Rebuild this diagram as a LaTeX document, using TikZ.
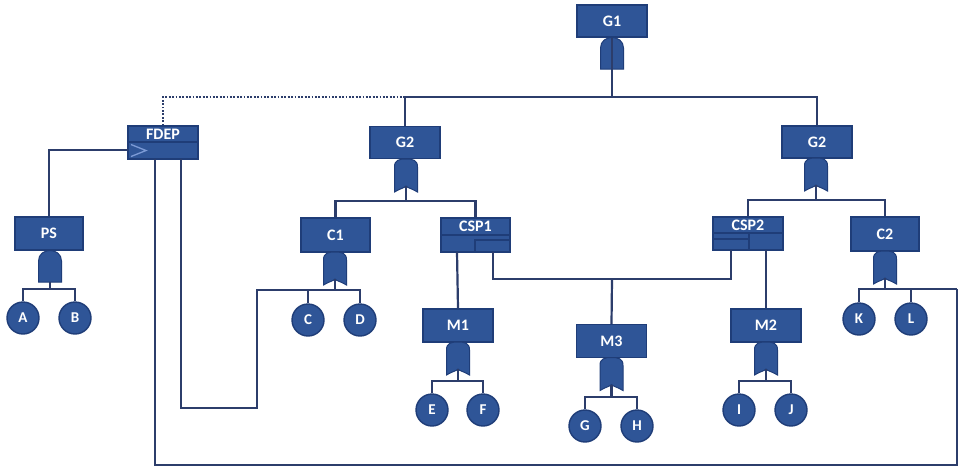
\documentclass[tikz,border=0pt]{standalone}
\usepackage{fontspec}
\setmainfont{Carlito}[BoldFont={Carlito Bold}]
\definecolor{fillb}{HTML}{2F5597}
\definecolor{edgeb}{HTML}{1F3D78}
\definecolor{linec}{HTML}{2C3D6B}
\definecolor{chev}{HTML}{7D9BD6}
\begin{document}
\begin{tikzpicture}[x=1pt,y=-1pt,
  box/.style={draw=edgeb, line width=1.4pt, fill=fillb, minimum width=70pt,
    minimum height=32pt, inner sep=0pt, text=white,
    font=\bfseries\fontsize{16}{16}\selectfont},
  evt/.style={circle, draw=edgeb, line width=1.4pt, fill=fillb, minimum size=32pt,
    inner sep=0pt, text=white, font=\bfseries\fontsize{15}{15}\selectfont},
  lbl/.style={inner sep=0pt, text=white, font=\bfseries\fontsize{16}{16}\selectfont},
  wire/.style={draw=linec, line width=2.2pt},
  dotwire/.style={draw=linec, line width=2.4pt, dash pattern=on 1.8pt off 1.6pt},
  inner/.style={draw=edgeb, line width=1.2pt},
  gatestyle/.style={fill=fillb, draw=edgeb, line width=1pt},
  andg/.pic={
    \path[gatestyle] (-11.5,32) -- (-11.5,11) .. controls (-11.5,-3) and (11.5,-3) .. (11.5,11)
      -- (11.5,32) -- cycle;
    \coordinate (-out) at (0,32);
  },
  org/.pic={
    \path[gatestyle] (-11.5,33) -- (-11.5,8) .. controls (-11.5,1) and (-7,0) .. (0,0)
      .. controls (7,0) and (11.5,1) .. (11.5,8) -- (11.5,33)
      .. controls (6,29.5) and (1.5,29) .. (0,27) .. controls (-1.5,29) and (-6,29.5) .. (-11.5,33) -- cycle;
    \coordinate (-out) at (0,27);
  }]
\useasboundingbox (0,0) rectangle (960,467);
\fill[white] (0,0) rectangle (960,467);

% ---------- boxes ----------
\node[box] (G1) at (612,21) {G1};
\node[box, minimum height=33pt] (FDEP) at (163,142.5) {};
\node[lbl] (FDEPt) at (163,134) {FDEP};
\node[box] (G2a) at (405,142.5) {G2};
\node[box] (G2b) at (817,142) {G2};
\node[box, minimum width=68pt, minimum height=33pt] (PS) at (49,233.5) {PS};
\node[box, minimum width=69pt, minimum height=34pt] (C1) at (335.5,235) {C1};
\node[box, minimum width=69pt, minimum height=34pt] (CSP1) at (475.5,235) {};
\node[lbl] (CSP1t) at (475.5,226.5) {CSP1};
\node[box, minimum height=33pt] (CSP2) at (748,233.5) {};
\node[lbl] (CSP2t) at (748,225.5) {CSP2};
\node[box, minimum width=68pt, minimum height=34pt] (C2) at (885,234) {C2};
\node[box, minimum height=33pt] (M1) at (458,325.5) {M1};
\node[box, minimum height=33pt] (M3) at (611.5,341) {M3};
\node[box, minimum height=33pt] (M2) at (766,325.5) {M2};

% inner details
\draw[inner] (FDEP.west |- 0,142) -- (FDEP.east |- 0,142);
\draw[draw=chev, line width=1.3pt] (131,144.5) -- (146,150.5) -- (131,156.5);
\draw[inner] (CSP1.west |- 0,235) -- (CSP1.east |- 0,235);
\draw[inner] (CSP1.east |- 0,240) -- (475,240) -- (475,252);
\draw[inner] (CSP2.west |- 0,233) -- (CSP2.east |- 0,233);
\draw[inner] (CSP2.west |- 0,239) -- (749,239);
\draw[inner] (749,233) -- (749,250);

% ---------- gates ----------
\pic (g1) at (612,37) {andg};
\pic (gps) at (50,250) {andg};
\pic (g2a) at (406,159) {org};
\pic (g2b) at (816,158) {org};
\pic (gc1) at (335,252) {org};
\pic (gc2) at (885,251) {org};
\pic (gm1) at (458,342) {org};
\pic (gm3) at (611.5,357.5) {org};
\pic (gm2) at (766,342) {org};

% ---------- events ----------
\node[evt] (A) at (23,318) {A};
\node[evt] (B) at (75,318) {B};
\node[evt] (C) at (308,320) {C};
\node[evt] (D) at (360,320) {D};
\node[evt] (E) at (432,410) {E};
\node[evt] (F) at (483,410) {F};
\node[evt] (G) at (585,426) {G};
\node[evt] (H) at (637,426) {H};
\node[evt] (I) at (739,410) {I};
\node[evt] (J) at (791,410) {J};
\node[evt] (K) at (859,319) {K};
\node[evt] (L) at (911,319) {L};

% ---------- junction coordinates ----------
\coordinate (b1) at (612,97);
\coordinate (b2a) at (406,201);
\coordinate (b2b) at (816,200);
\coordinate (bps) at (50,289);
\coordinate (bc1) at (335,290);
\coordinate (bc2) at (885,289);
\coordinate (bm1) at (458,381);
\coordinate (bm3) at (611.5,397);
\coordinate (bm2) at (766,381);
\coordinate (fin) at (128,150);
\coordinate (f1) at (155,159);
\coordinate (f2) at (181,159);
\coordinate (c1l) at (257,290);
\coordinate (rgt) at (957,289);
\coordinate (s1) at (457,252);
\coordinate (s2) at (493,252);
\coordinate (s3) at (731,250);
\coordinate (s4) at (766,250);
\coordinate (bs) at (612,279);

% ---------- wires ----------
\draw[wire] (G1.south) -- (g1-out);
\draw[wire] (g1-out) -- (b1);
\draw[wire] (G2a.north) |- (b1) -| (G2b.north);
\draw[dotwire] (FDEP.north) |- ([xshift=-1pt]G2a.north |- b1);

\draw[wire] (g2a-out) -- (b2a);
\draw[wire] (C1.north) |- (b2a) -| (CSP1.north);
\draw[wire] (g2b-out) -- (b2b);
\draw[wire] (CSP2.north) |- (b2b) -| (C2.north);

\draw[wire] (PS.north) |- (fin);
\draw[wire] (gps-out) -- (bps);
\draw[wire] (A.north) |- (bps) -| (B.north);

\draw[wire] (gc1-out) -- (bc1);
\draw[wire] (C.north) |- (bc1) -| (D.north);
\draw[wire] (f2) -- (181,408) -| (c1l) -- (C.north |- c1l);

\draw[wire] (gc2-out) -- (bc2);
\draw[wire] (K.north) |- (bc2) -| (L.north);
\draw[wire] (L.north |- bc2) -- (rgt);
\draw[wire] (f1) |- (957,465) -- (rgt);

\draw[wire] (s1) -- (M1.north);
\draw[wire] (s2) |- (bs) -| (s3);
\draw[wire] (bs) -- (M3.north);
\draw[wire] (s4) -- (M2.north);

\draw[wire] (gm1-out) -- (bm1);
\draw[wire] (E.north) |- (bm1) -| (F.north);
\draw[wire] (gm3-out) -- (bm3);
\draw[wire] (G.north) |- (bm3) -| (H.north);
\draw[wire] (gm2-out) -- (bm2);
\draw[wire] (I.north) |- (bm2) -| (J.north);
\end{tikzpicture}
\end{document}
